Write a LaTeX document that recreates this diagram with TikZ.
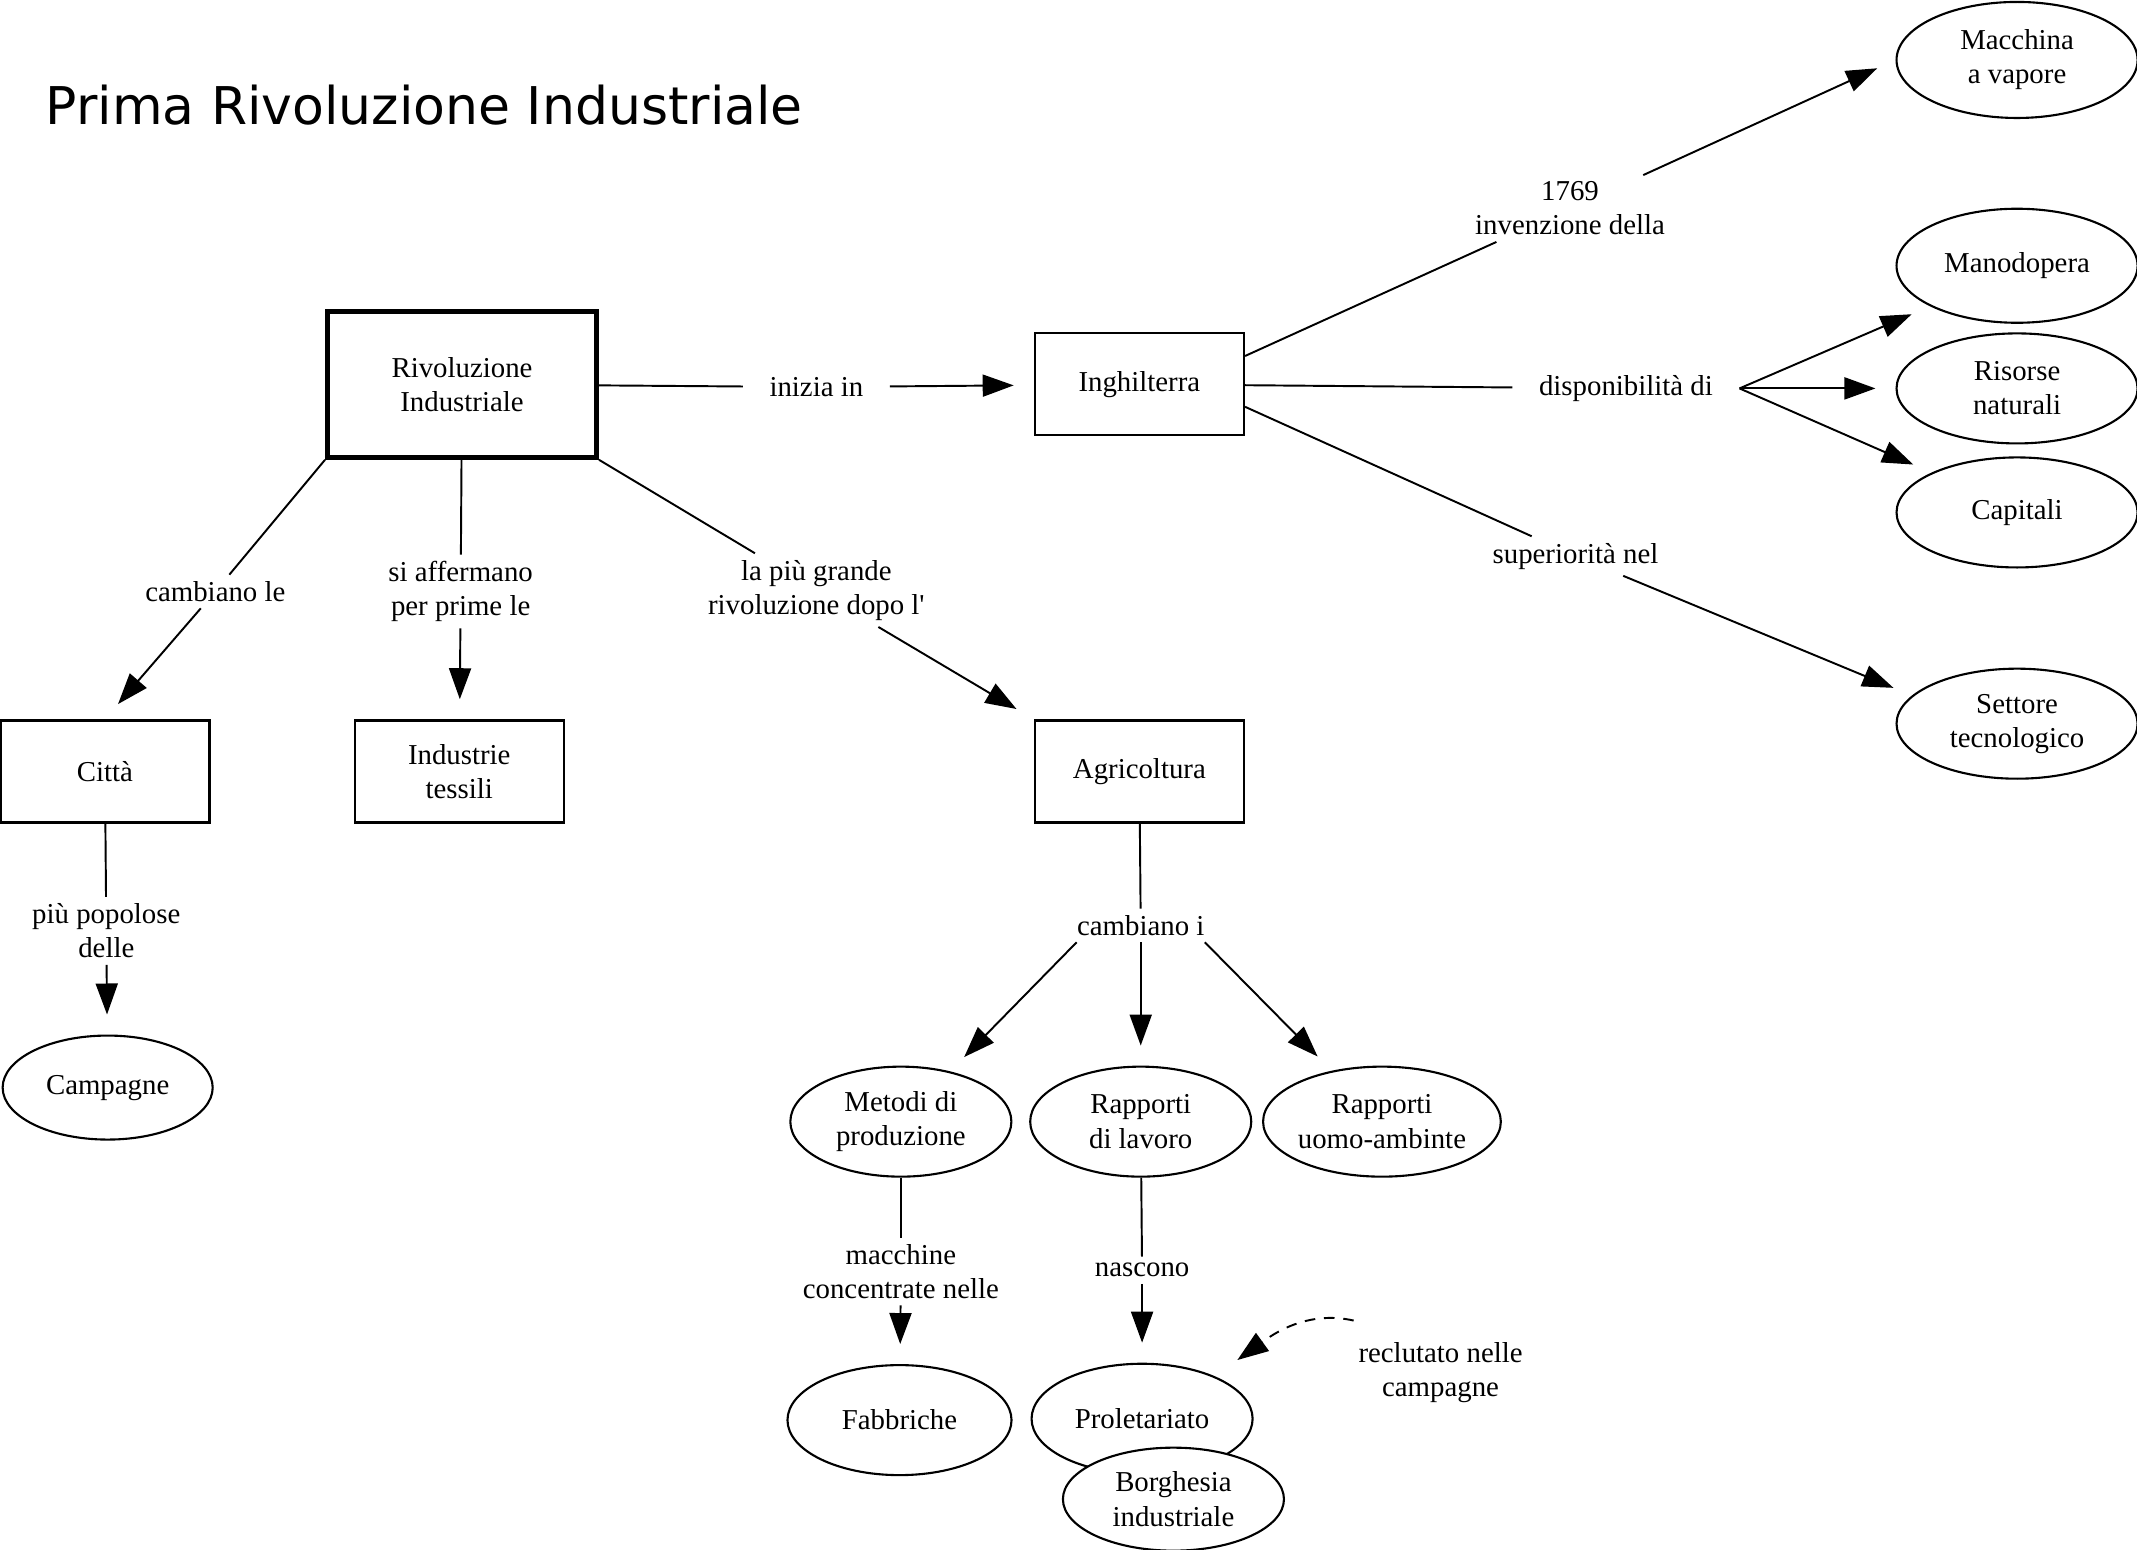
\documentclass[tikz,border=0pt]{standalone}
\usepackage{fontspec}
\setmainfont{Liberation Serif}
\newfontfamily\titlefont{DejaVu Sans}
\usepackage{tikz}
\usetikzlibrary{arrows.meta, positioning, calc, shapes.geometric}

\begin{document}
\begin{tikzpicture}[x=0.01363cm, y=-0.01363cm,
		font=\fontsize{8.2}{9.7}\selectfont,
		box/.style={draw, line width=0.65pt, minimum width=2.09cm, minimum height=1.02cm, align=center},
		bubble/.style={draw, fill=white, ellipse, line width=0.6pt, minimum width=2.21cm, minimum height=1.1cm, inner sep=0pt, align=center},
		wide/.style={bubble, minimum width=2.41cm},
		phrase/.style={inner xsep=0.26cm, inner ysep=0.06cm, align=center},
		link/.style={line width=0.55pt},
		arrowlink/.style={link, shorten >=0.2cm, -{Triangle[length=0.31cm, width=0.22cm]}}]
				\useasboundingbox (0,0) rectangle (1568,1137);
				
				% Title
				\node[anchor=base west, inner sep=0pt, font=\titlefont\fontsize{14.8}{17}\selectfont] (title) at (33,91) {Prima Rivoluzione Industriale};
				
				% Concepts
				\node[box, line width=1.4pt, minimum width=2.69cm, minimum height=1.46cm] (riv) at (339,282) {Rivoluzione\\Industriale};
				\node[box] (ingh) at (836,282) {Inghilterra};
				\node[box] (citta) at (77,566) {Città};
				\node[box] (tessili) at (337,566) {Industrie\\tessili};
				\node[box] (agri) at (836,566) {Agricoltura};
				
				\node[bubble, minimum width=2.1cm, minimum height=1.04cm] (campagne) at (79,798) {Campagne};
				\node[bubble] (metodi) at (661,823) {Metodi di\\produzione};
				\node[bubble] (lavoro) at (837,823) {Rapporti\\di lavoro};
				\node[bubble] (ambiente) at (1014,823) {Rapporti\\uomo-ambinte};
				\node[bubble, minimum width=2.24cm] (fabbriche) at (660,1042) {Fabbriche};
				\node[bubble] (prol) at (838,1041) {Proletariato};
				\node[bubble, minimum height=1.03cm] (borgh) at (861,1100) {Borghesia\\industriale};
				
				\node[wide, minimum height=1.16cm] (vapore) at (1480,44) {Macchina\\a vapore};
				\node[wide, minimum height=1.14cm] (mano) at (1480,195) {Manodopera};
				\node[wide] (risorse) at (1480,285) {Risorse\\naturali};
				\node[wide] (capitali) at (1480,376) {Capitali};
				\node[wide] (settore) at (1480,531) {Settore\\tecnologico};
				
				% Linking phrases
				\node[phrase] (inizia) at (599,284) {inizia in};
				\node[phrase] (camb) at (158,434) {cambiano le};
				\node[phrase] (affer) at (338,434) {si affermano\\per prime le};
				\node[phrase] (grande) at (599,433) {la più grande\\rivoluzione dopo l\textquotesingle};
				\node[phrase] (popol) at (78,683) {più popolose\\delle};
				\node[phrase] (cambi) at (837,679) {cambiano i};
				\node[phrase] (macch) at (661,933) {macchine\\concentrate nelle};
				\node[phrase] (nasc) at (838,932) {nascono};
				\node[phrase] (recl) at (1057,1007) {reclutato nelle\\campagne};
				\node[phrase] (inv) at (1152,153) {1769\\invenzione della};
				\node[phrase] (disp) at (1193,285) {disponibilità di};
				\node[phrase] (sup) at (1156,408) {superiorità nel};
				
				% Connections
				\draw[link] (riv) -- (inizia);
				\draw[arrowlink] (inizia) -- (ingh);
				\draw[link] (riv.south west) -- (camb);
				\draw[arrowlink] (camb) -- (citta.north);
				\draw[link] (riv) -- (affer);
				\draw[arrowlink] (affer) -- (tessili);
				\draw[link] (riv.south east) -- (grande);
				\draw[arrowlink] (grande) -- (agri.north west);
				
				\draw[link] (citta) -- (popol);
				\draw[arrowlink] (popol) -- (campagne);
				
				\draw[link] (agri) -- (cambi);
				\draw[arrowlink] ($(cambi.south)+(-47,0)$) -- (metodi);
				\draw[arrowlink] (cambi) -- (lavoro);
				\draw[arrowlink] ($(cambi.south)+(47,0)$) -- (ambiente);
				
				\draw[link] (metodi) -- (macch);
				\draw[arrowlink] (macch) -- (fabbriche);
				\draw[link] (lavoro) -- (nasc);
				\draw[arrowlink] (nasc) -- (prol);
				\draw[arrowlink, shorten >=0pt, dash pattern=on 3pt off 2.5pt] ($(recl.north west)+(16,-11)$) .. controls +(-35,-8) and +(25,-18) .. ($(prol.north east)+(12,-14)$);
				
				\draw[link] (ingh.15) -- (inv);
				\draw[arrowlink] (inv) -- (vapore.west);
				\draw[link] (ingh) -- (disp);
				\draw[arrowlink] (disp.east) -- (mano.205);
				\draw[arrowlink] (disp.east) -- (risorse.west);
				\draw[arrowlink] (disp.east) -- (capitali.155);
				\draw[link] (ingh.-12) -- (sup);
				\draw[arrowlink] (sup) -- (settore.165);
			\end{tikzpicture}
\end{document}
